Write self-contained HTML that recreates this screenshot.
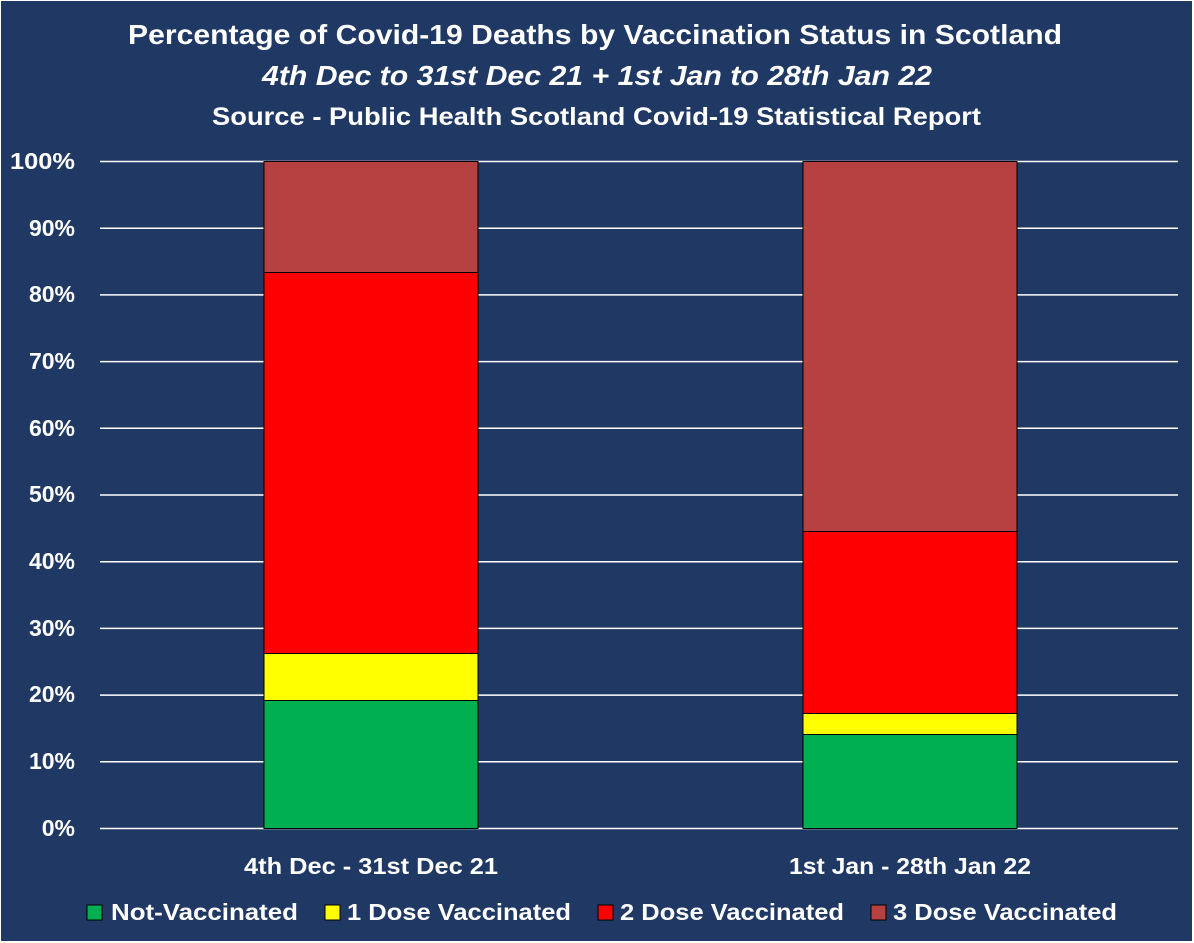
<!DOCTYPE html>
<html><head><meta charset="utf-8"><style>
html,body{margin:0;padding:0;background:#fff}
svg{display:block}
text{font-family:"Liberation Sans",sans-serif;font-weight:bold;fill:#fff}
</style></head><body>
<svg width="1194" height="943" viewBox="0 0 1194 943">
<rect x="1" y="1" width="1191" height="940" fill="#203864"/>
<text x="128" y="44" font-size="28" textLength="934" lengthAdjust="spacingAndGlyphs">Percentage of Covid-19 Deaths by Vaccination Status in Scotland</text>
<text x="262" y="85" font-size="28" font-style="italic" textLength="670" lengthAdjust="spacingAndGlyphs">4th Dec to 31st Dec 21 + 1st Jan to 28th Jan 22</text>
<text x="212" y="125" font-size="25" textLength="769" lengthAdjust="spacingAndGlyphs">Source - Public Health Scotland Covid-19 Statistical Report</text>
<g stroke="#fff" stroke-width="1.5">
<line x1="100" x2="1178" y1="161.5" y2="161.5"/><line x1="100" x2="1178" y1="228.2" y2="228.2"/>
<line x1="100" x2="1178" y1="294.9" y2="294.9"/><line x1="100" x2="1178" y1="361.6" y2="361.6"/>
<line x1="100" x2="1178" y1="428.3" y2="428.3"/><line x1="100" x2="1178" y1="495" y2="495"/>
<line x1="100" x2="1178" y1="561.7" y2="561.7"/><line x1="100" x2="1178" y1="628.4" y2="628.4"/>
<line x1="100" x2="1178" y1="695.1" y2="695.1"/><line x1="100" x2="1178" y1="761.8" y2="761.8"/>
<line x1="100" x2="1178" y1="828.5" y2="828.5"/>
</g>
<g font-size="23" text-anchor="end">
<text x="75" y="169" textLength="65" lengthAdjust="spacingAndGlyphs">100%</text><text x="75" y="236">90%</text><text x="75" y="302">80%</text>
<text x="75" y="369">70%</text><text x="75" y="436">60%</text><text x="75" y="502">50%</text>
<text x="75" y="569">40%</text><text x="75" y="636">30%</text><text x="75" y="702">20%</text>
<text x="75" y="769">10%</text><text x="75" y="836">0%</text>
</g>
<g stroke="#000" stroke-width="1">
<rect x="264" y="161.5" width="214" height="111" fill="#b74040"/>
<rect x="264" y="272.5" width="214" height="381" fill="#ff0000"/>
<rect x="264" y="653.5" width="214" height="47" fill="#ffff00"/>
<rect x="264" y="700.5" width="214" height="128" fill="#00b050"/>
<rect x="803" y="161.5" width="214" height="370" fill="#b74040"/>
<rect x="803" y="531.5" width="214" height="182" fill="#ff0000"/>
<rect x="803" y="713.5" width="214" height="21" fill="#ffff00"/>
<rect x="803" y="734.5" width="214" height="94" fill="#00b050"/>
</g>
<text x="244" y="874" font-size="23" textLength="254" lengthAdjust="spacingAndGlyphs">4th Dec - 31st Dec 21</text>
<text x="789" y="874" font-size="23" textLength="242" lengthAdjust="spacingAndGlyphs">1st Jan - 28th Jan 22</text>
<g stroke="#000" stroke-width="1">
<rect x="87" y="905" width="15" height="15" fill="#00b050"/>
<rect x="325" y="905" width="15" height="15" fill="#ffff00"/>
<rect x="598" y="905" width="15" height="15" fill="#ff0000"/>
<rect x="871" y="905" width="15" height="15" fill="#b74040"/>
</g>
<g font-size="23">
<text x="111" y="920" textLength="187" lengthAdjust="spacingAndGlyphs">Not-Vaccinated</text>
<text x="347" y="920" textLength="224" lengthAdjust="spacingAndGlyphs">1 Dose Vaccinated</text>
<text x="620" y="920" textLength="224" lengthAdjust="spacingAndGlyphs">2 Dose Vaccinated</text>
<text x="893" y="920" textLength="224" lengthAdjust="spacingAndGlyphs">3 Dose Vaccinated</text>
</g>
</svg>
</body></html>
